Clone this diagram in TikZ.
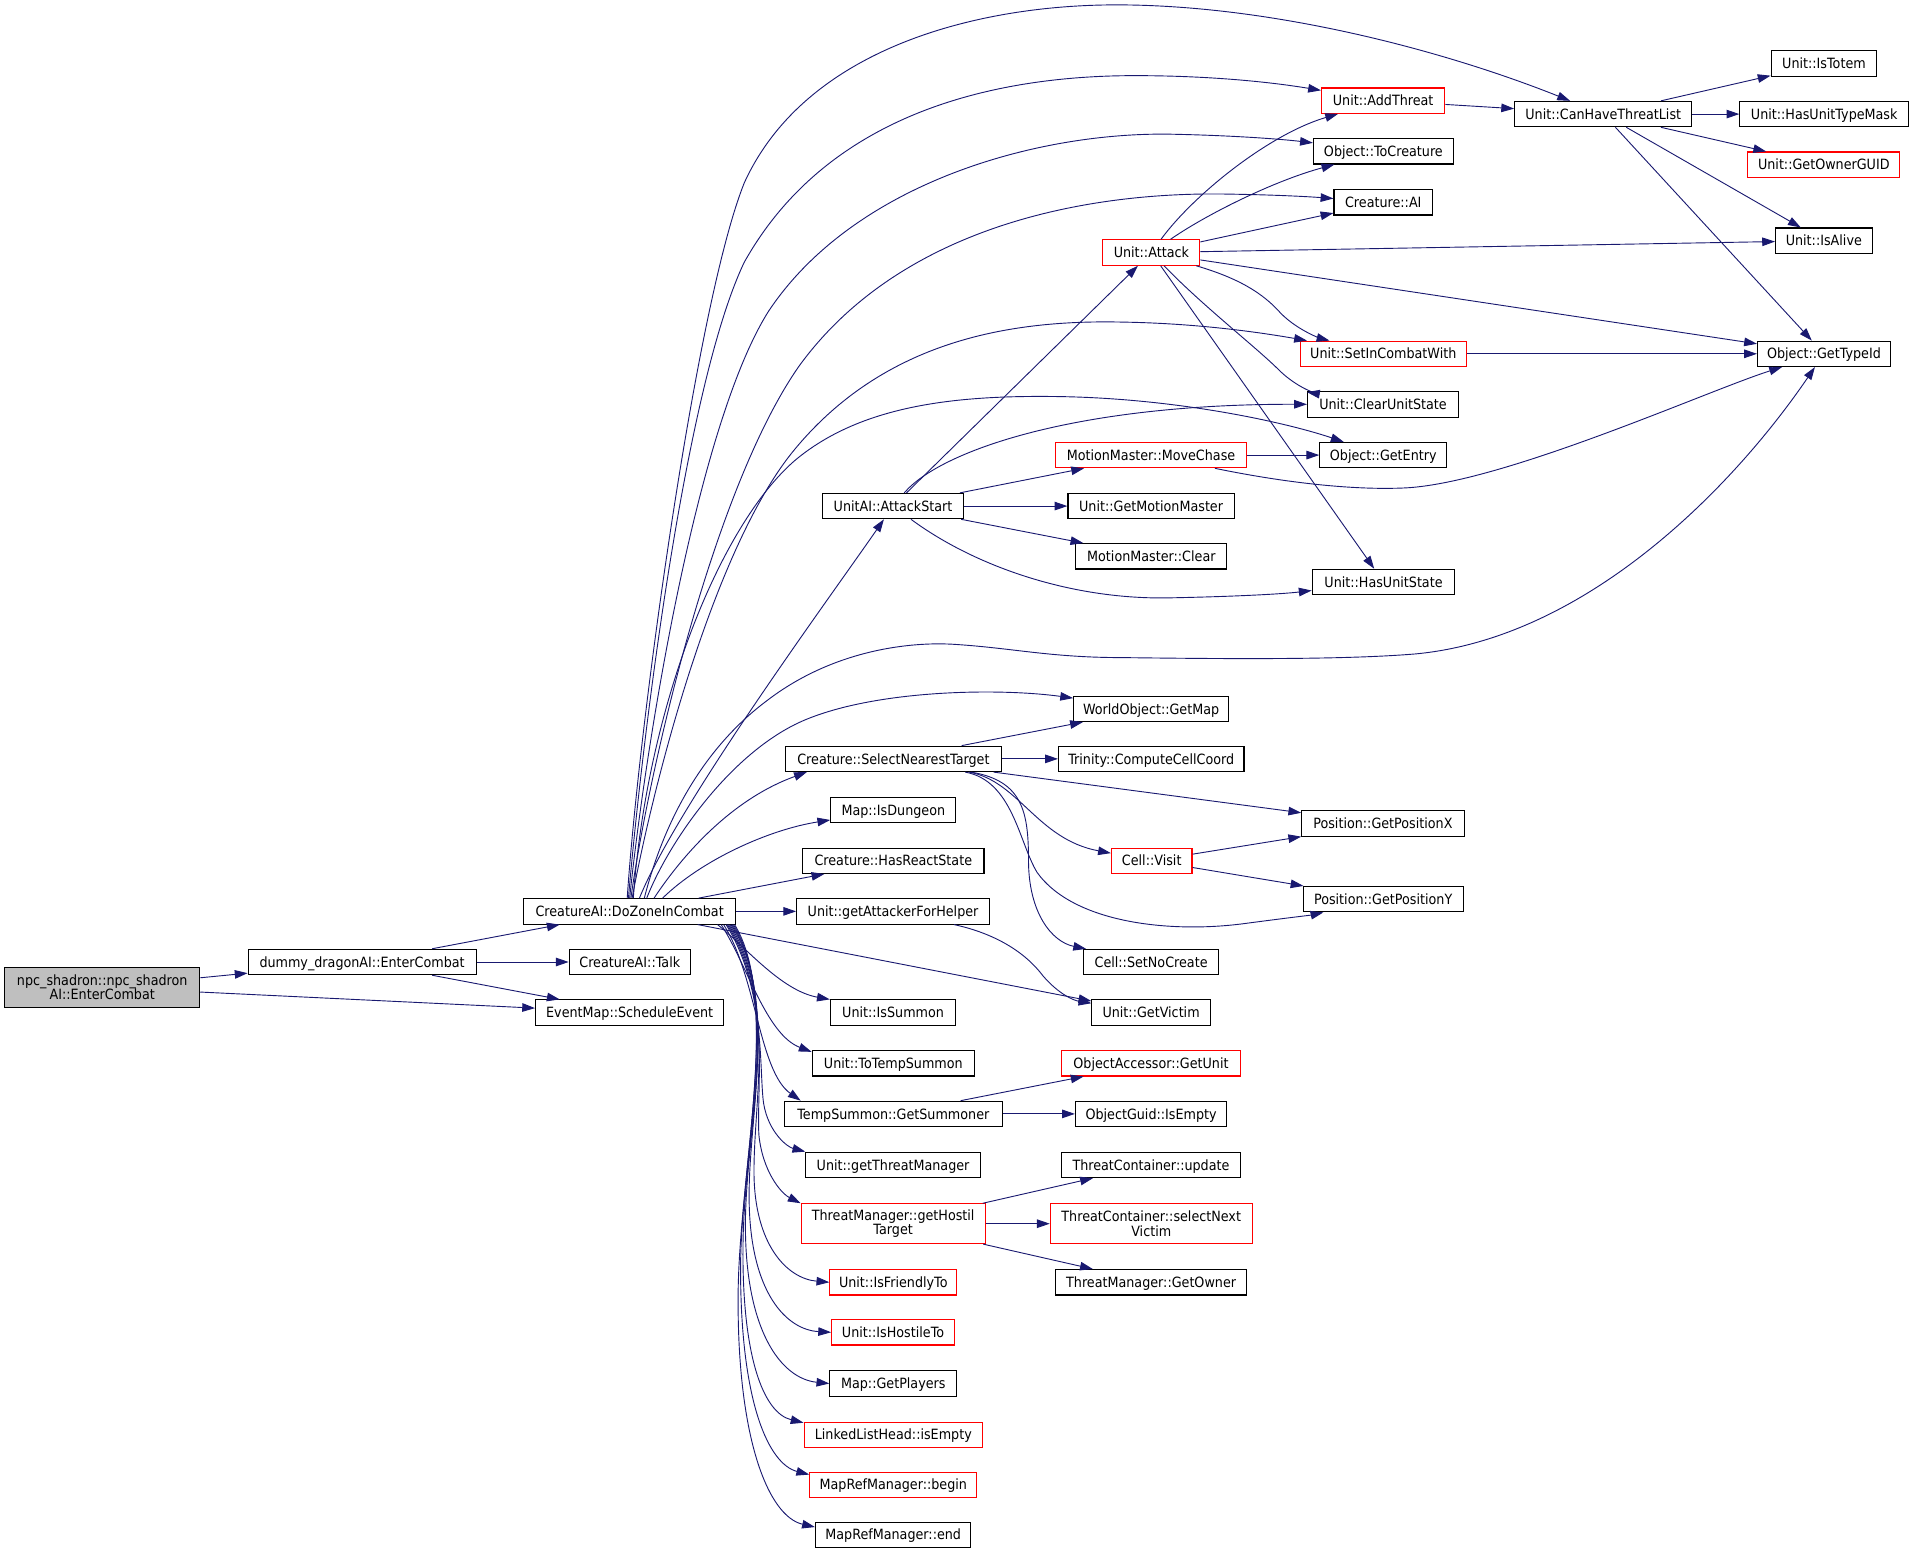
\documentclass[tikz,border=0pt]{standalone}
\usepackage{fontspec}
\setmainfont{DejaVu Sans}[FakeStretch=0.9]
\usetikzlibrary{arrows.meta}
\definecolor{edgec}{HTML}{191970}
\definecolor{rootfill}{HTML}{BFBFBF}
\begin{document}
\begin{tikzpicture}[x=1pt,y=-1pt,
  box/.style={draw=black, line width=0.9pt, fill=white, rectangle, inner sep=0pt,
    minimum height=20.8pt, font=\fontsize{11.6}{11.6}\selectfont,
    text height=10.5pt, text depth=2pt},
  redbox/.style={box, draw=red},
  twoline/.style={draw=black, line width=0.9pt, fill=white, rectangle, inner sep=0pt,
    minimum height=32.6pt, font=\fontsize{11.6}{11.6}\selectfont, align=center},
  e/.style={draw=edgec, line width=0.75pt, -{Triangle[length=10.5pt,width=7pt]}}
]
\useasboundingbox (0,0) rectangle (1568,1273.8);

% nodes
\node[twoline, minimum width=159.8pt, fill=rootfill] (root) at (83.8,809.3) {npc\_shadron::npc\_shadron\\AI::EnterCombat};
\node[box, minimum width=186.8pt] (dummy) at (296.8,788.5) {dummy\_dragonAI::EnterCombat};
\node[box, minimum width=174pt] (dz) at (516.1,747) {CreatureAI::DoZoneInCombat};
\node[box, minimum width=99.3pt] (talk) at (516.2,788.5) {CreatureAI::Talk};
\node[box, minimum width=154.2pt] (se) at (516.1,830) {EventMap::ScheduleEvent};
\node[box, minimum width=115.3pt] (as) at (732,414.8) {UnitAI::AttackStart};
\node[redbox, minimum width=79.5pt] (attack) at (943.7,207) {Unit::Attack};
\node[redbox, minimum width=101pt] (addthreat) at (1133.7,82.5) {Unit::AddThreat};
\node[box, minimum width=145.2pt] (ct) at (1314.1,93.5) {Unit::CanHaveThreatList};
\node[box, minimum width=86.6pt] (istotem) at (1495,52) {Unit::IsTotem};
\node[box, minimum width=138.2pt] (hutm) at (1495.2,93.5) {Unit::HasUnitTypeMask};
\node[redbox, minimum width=124.7pt] (ownerguid) at (1494.9,135) {Unit::GetOwnerGUID};
\node[box, minimum width=79.1pt] (isalive) at (1494.9,197.3) {Unit::IsAlive};
\node[box, minimum width=108.9pt] (typeid) at (1495,290) {Object::GetTypeId};
\node[box, minimum width=114.7pt] (tocreature) at (1133.9,124) {Object::ToCreature};
\node[box, minimum width=80.8pt] (cai) at (1133.8,165.8) {Creature::AI};
\node[redbox, minimum width=136.4pt] (sicw) at (1133.8,290) {Unit::SetInCombatWith};
\node[box, minimum width=123.8pt] (cus) at (1133.6,331.5) {Unit::ClearUnitState};
\node[box, minimum width=104pt] (getentry) at (1133.8,373) {Object::GetEntry};
\node[redbox, minimum width=156.2pt] (movechase) at (943.4,373) {MotionMaster::MoveChase};
\node[box, minimum width=136.3pt] (gmm) at (943.5,414.8) {Unit::GetMotionMaster};
\node[box, minimum width=123.8pt] (mmclear) at (943.7,456) {MotionMaster::Clear};
\node[box, minimum width=116.9pt] (hus) at (1134,477) {Unit::HasUnitState};
\node[box, minimum width=127pt] (getmap) at (943.5,581) {WorldObject::GetMap};
\node[box, minimum width=177.5pt] (snt) at (732.3,622) {Creature::SelectNearestTarget};
\node[box, minimum width=152pt] (ccc) at (943.6,622) {Trinity::ComputeCellCoord};
\node[box, minimum width=102.5pt] (isdungeon) at (732.2,664) {Map::IsDungeon};
\node[box, minimum width=133pt] (posx) at (1133.5,675) {Position::GetPositionX};
\node[redbox, minimum width=66pt] (cellvisit) at (944,705.5) {Cell::Visit};
\node[box, minimum width=148.7pt] (hrs) at (732.2,705.5) {Creature::HasReactState};
\node[box, minimum width=131.3pt] (posy) at (1133.7,737) {Position::GetPositionY};
\node[box, minimum width=158pt] (gafh) at (732,747) {Unit::getAttackerForHelper};
\node[box, minimum width=111pt] (setnocreate) at (943.5,788.6) {Cell::SetNoCreate};
\node[box, minimum width=102.8pt] (isummon) at (732,830) {Unit::IsSummon};
\node[box, minimum width=97pt] (getvictim) at (943.5,830) {Unit::GetVictim};
\node[box, minimum width=133pt] (tts) at (732.2,871.5) {Unit::ToTempSummon};
\node[redbox, minimum width=146.8pt] (oagu) at (943.4,871.5) {ObjectAccessor::GetUnit};
\node[box, minimum width=179pt] (tsgs) at (732.2,913) {TempSummon::GetSummoner};
\node[box, minimum width=124pt] (ogie) at (943.5,913) {ObjectGuid::IsEmpty};
\node[box, minimum width=143pt] (gtm) at (732,954.8) {Unit::getThreatManager};
\node[box, minimum width=146.8pt] (tcu) at (943.4,954.8) {ThreatContainer::update};
\node[twoline, draw=red, minimum width=150.8pt] (ght) at (732.1,1003) {ThreatManager::getHostil\\Target};
\node[twoline, draw=red, minimum width=165.4pt] (tcsnv) at (943.6,1003) {ThreatContainer::selectNext\\Victim};
\node[box, minimum width=156.3pt] (tmgo) at (943.5,1051) {ThreatManager::GetOwner};
\node[redbox, minimum width=104pt] (ift) at (732.2,1051) {Unit::IsFriendlyTo};
\node[redbox, minimum width=100.7pt] (iht) at (732,1092) {Unit::IsHostileTo};
\node[box, minimum width=104pt] (gp) at (732.2,1134) {Map::GetPlayers};
\node[redbox, minimum width=146.3pt] (llhie) at (732.2,1176) {LinkedListHead::isEmpty};
\node[redbox, minimum width=137pt] (mrmb) at (732.2,1217) {MapRefManager::begin};
\node[box, minimum width=127.4pt] (mrme) at (732.1,1258) {MapRefManager::end};

% root and dummy
\draw[e] (root) -- (dummy);
\draw[e] (root) -- (se);
\draw[e] (dummy) -- (dz);
\draw[e] (dummy) -- (talk);
\draw[e] (dummy) -- (se);

% upward curves from DoZoneInCombat
\draw[e] ([xshift=-2pt]dz.north) .. controls (523,600) and (570,250) .. (610,150) .. controls (660,40) and (800,4) .. (915,4) .. controls (1040,4) and (1180,40) .. (ct);
\draw[e] ([xshift=-1pt]dz.north) .. controls (525,620) and (560,320) .. (610,215) .. controls (680,90) and (820,62) .. (930,62) .. controls (990,62) and (1040,67) .. (addthreat);
\draw[e] (dz.north) .. controls (528,620) and (570,350) .. (630,255) .. controls (700,150) and (850,108) .. (960,110) .. controls (1010,111) and (1050,114) .. (tocreature);
\draw[e] ([xshift=1pt]dz.north) .. controls (532,630) and (585,400) .. (655,300) .. controls (735,190) and (880,158) .. (1000,159) .. controls (1040,159.5) and (1070,161) .. (cai);
\draw[e] ([xshift=2pt]dz.north) .. controls (536,640) and (585,450) .. (650,370) .. controls (725,278) and (830,262) .. (920,264) .. controls (980,265) and (1030,272) .. (sicw);
\draw[e] ([xshift=3pt]dz.north) .. controls (530,580) and (590,430) .. (652,377) .. controls (705,333) and (780,324) .. (864,325) .. controls (960,326) and (1050,345) .. (getentry);
\draw[e] ([xshift=8pt]dz.north) .. controls (555,660) and (680,490) .. (as);
\draw[e] ([xshift=12pt]dz.north) .. controls (545,670) and (578,612) .. (629,574) .. controls (680,535) and (740,526) .. (780,528) .. controls (830,531) and (860,539) .. (920,539) .. controls (1000,540) and (1100,541) .. (1160,536) .. controls (1300,523) and (1420,400) .. (typeid);
\draw[e] ([xshift=14pt]dz.north) .. controls (548,690) and (600,615) .. (660,590) .. controls (720,565) and (820,564) .. (getmap);
\draw[e] ([xshift=20pt]dz.north) .. controls (560,700) and (600,655) .. ([xshift=-71pt]snt.south);
\draw[e] ([xshift=27pt]dz.north) .. controls (575,705) and (630,680) .. (isdungeon);
\draw[e] (dz) -- (hrs);
\draw[e] (dz) -- (gafh);
\draw[e] (dz) -- (getvictim);

% downward curves from DoZoneInCombat
\draw[e] ([xshift=72pt]dz.south) .. controls (610,775) and (640,812) .. (isummon.north west);
\draw[e] ([xshift=75pt]dz.south) .. controls (612,790) and (628,848) .. ([yshift=-1.5pt]tts.north west);
\draw[e] ([xshift=77pt]dz.south) .. controls (620,800) and (622,878) .. ([xshift=14pt]tsgs.north west);
\draw[e] ([xshift=79pt]dz.south) .. controls (628,810) and (622,880) .. (626,905) .. controls (630,928) and (645,940) .. (gtm.north west);
\draw[e] ([xshift=80pt]dz.south) .. controls (632,815) and (620,890) .. (622,930) .. controls (625,960) and (640,978) .. (ght.north west);
\draw[e] ([xshift=81pt]dz.south) .. controls (636,820) and (618,900) .. (618,960) .. controls (618,1020) and (645,1048) .. (ift.west);
\draw[e] ([xshift=82pt]dz.south) .. controls (638,820) and (614,910) .. (614,980) .. controls (614,1060) and (645,1090) .. (iht.west);
\draw[e] ([xshift=83pt]dz.south) .. controls (640,820) and (612,920) .. (611,1000) .. controls (610,1090) and (640,1130) .. (gp.west);
\draw[e] ([xshift=84pt]dz.south) .. controls (640,820) and (610,930) .. (609,1020) .. controls (608,1110) and (625,1158) .. ([yshift=-1pt]llhie.north west);
\draw[e] ([xshift=85pt]dz.south) .. controls (640,820) and (607,950) .. (607,1040) .. controls (607,1150) and (630,1200) .. ([yshift=-2.5pt]mrmb.north west);
\draw[e] ([xshift=86pt]dz.south) .. controls (640,820) and (606,960) .. (605,1060) .. controls (604,1180) and (630,1243) .. ([yshift=-4.5pt]mrme.north west);

% AddThreat / CanHaveThreatList
\draw[e] (addthreat) -- (ct);
\draw[e] (ct) -- (istotem);
\draw[e] (ct) -- (hutm);
\draw[e] (ct) -- (ownerguid);
\draw[e] (ct) -- (isalive);
\draw[e] (ct) -- (typeid);

% Unit::Attack
\draw[e] (attack) .. controls (978,160) and (1040,110) .. (addthreat);
\draw[e] (attack) .. controls (990,175) and (1045,148) .. (tocreature);
\draw[e] (attack) -- (cai);
\draw[e] (attack) -- (isalive);
\draw[e] (attack) -- (typeid);
\draw[e] (attack) .. controls (1015,228) and (1035,240) .. (1050,257) .. controls (1065,272) and (1085,278) .. (sicw);
\draw[e] (attack) .. controls (985,250) and (1030,285) .. (1048,303) .. controls (1060,315) and (1075,322) .. (cus);
\draw[e] (attack) -- (hus);
\draw[e] (sicw) -- (typeid);

% UnitAI::AttackStart
\draw[e] (as) -- (attack);
\draw[e] (as) .. controls (770,370) and (880,331) .. (cus);
\draw[e] (as) -- (movechase);
\draw[e] (as) -- (gmm);
\draw[e] (as) -- (mmclear);
\draw[e] (as) .. controls (800,465) and (880,492) .. (960,490) .. controls (1010,489) and (1050,487) .. (hus);
\draw[e] (movechase) -- (getentry);
\draw[e] (movechase) .. controls (1040,393) and (1100,402) .. (1150,400) .. controls (1230,397) and (1400,320) .. (typeid);

% SelectNearestTarget
\draw[e] (snt) -- (getmap);
\draw[e] (snt) -- (ccc);
\draw[e] (snt) -- (posx);
\draw[e] (snt) .. controls (835,640) and (850,688) .. (cellvisit);
\draw[e] (snt) .. controls (830,640) and (835,690) .. (850,715) .. controls (880,757) and (960,765) .. (1020,757) .. controls (1050,753) and (1075,750) .. (posy);
\draw[e] (snt) .. controls (838,640) and (843,665) .. (843,705) .. controls (843,748) and (862,772) .. (setnocreate);
\draw[e] (cellvisit) -- (posx);
\draw[e] (cellvisit) -- (posy);
\draw[e] (gafh) .. controls (815,765) and (840,780) .. (855,800) .. controls (868,815) and (880,820) .. (getvictim);

% lower groups
\draw[e] (tsgs) -- (oagu);
\draw[e] (tsgs) -- (ogie);
\draw[e] (ght) -- (tcu);
\draw[e] (ght) -- (tcsnv);
\draw[e] (ght) -- (tmgo);
\end{tikzpicture}
\end{document}
